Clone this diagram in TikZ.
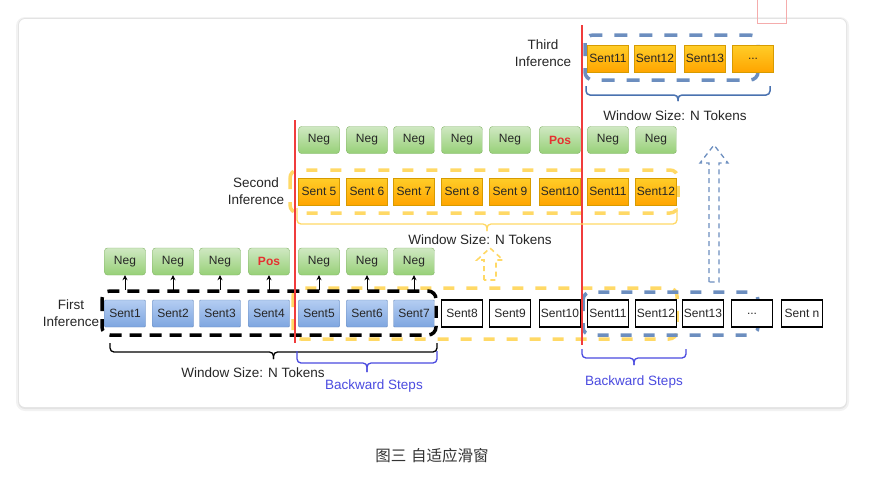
\documentclass[tikz,border=0pt]{standalone}
\usepackage{fontspec}
\setmainfont{Liberation Sans}
\newfontfamily\cjk{Noto Sans CJK SC}
\usetikzlibrary{arrows.meta}

\definecolor{sentblue}{HTML}{7EA6E0}
\definecolor{sentbluetop}{HTML}{B4CDF2}
\definecolor{sentbluebd}{HTML}{6C8EBF}
\definecolor{neggreen}{HTML}{97D077}
\definecolor{neggreentop}{HTML}{CFE8C2}
\definecolor{neggreenbd}{HTML}{82B366}
\definecolor{orangetop}{HTML}{FFCD28}
\definecolor{orangebot}{HTML}{FFA500}
\definecolor{orangebd}{HTML}{D79B00}
\definecolor{winyellow}{HTML}{FFD966}
\definecolor{winblue}{HTML}{6C8EBF}
\definecolor{braceblue}{HTML}{4A72B0}
\definecolor{stepblue}{HTML}{4B4BE0}
\definecolor{cutred}{HTML}{F03C3C}
\definecolor{posred}{HTML}{E53030}

% curly bracket: x1, x2, top, arm, tip, options
\newcommand{\curly}[6]{%
  \draw[#6, rounded corners=4pt] (#1,#3) -- (#1,#4) -- ({(#1+#2)/2},#4) -- ({(#1+#2)/2},#5);
  \draw[#6, rounded corners=4pt] (#2,#3) -- (#2,#4) -- ({(#1+#2)/2},#4) -- ({(#1+#2)/2},#5);}

\tikzset{
  cellbox/.style={minimum width=41pt, minimum height=27pt, inner sep=0pt, text=black!85,
    font=\fontsize{12}{14}\selectfont},
  sentbox/.style={cellbox, draw=sentbluebd, top color=sentbluetop, bottom color=sentblue, rounded corners=1pt},
  negbox/.style={cellbox, draw=neggreenbd, top color=neggreentop, bottom color=neggreen, rounded corners=3pt},
  posbox/.style={negbox, text=posred, font=\fontsize{12}{14}\selectfont\bfseries},
  orbox/.style={cellbox, draw=orangebd, top color=orangetop, bottom color=orangebot},
  plainbox/.style={cellbox, draw=black, line width=1.6pt, fill=white},
  winrect/.style={line width=3.5pt, rounded corners=8pt},
  txt/.style={font=\fontsize{13.5}{17}\selectfont, align=center, text=black!85},
  hollow/.style={line width=1.3pt, dash pattern=on 5pt off 4pt},
  up/.style={-{Stealth[length=5pt,width=5pt]}, line width=0.9pt, shorten <=10pt},
}

\begin{document}
\begin{tikzpicture}[x=1pt, y=-1pt]
	\useasboundingbox (0,0) rectangle (876,491);
	\fill[white] (0,0) rectangle (876,491);
	% card
	\fill[black, opacity=0.05, rounded corners=9pt] (16,17) rectangle (849,411);
	\fill[black, opacity=0.06, rounded corners=7pt] (18,18) rectangle (847,409);
	\fill[white, rounded corners=6pt] (19,19) rectangle (846,407);
	\draw[posred!40, line width=0.8pt] (757,-1) -- (757,23) -- (786,23) -- (786,-1);

	% windows
	\draw[winrect, winyellow, dash pattern=on 11pt off 12pt] (293,288) rectangle (677,339);
	\draw[winrect, winblue, dash pattern=on 11pt off 12pt] (583,292) rectangle (758,335);
	\draw[winrect, black, dash pattern=on 12pt off 8pt] (102,291) rectangle (436,335);
	\draw[winrect, winyellow, dash pattern=on 11pt off 13pt] (290,170) rectangle (678,213);
	\draw[winrect, winblue, dash pattern=on 13pt off 12pt] (585,35) rectangle (758,80);

	% First inference
	\begin{scope}[]
	\node[sentbox] (b1) at (125,313.5) {Sent1};
	\node[sentbox] (b2) at (173,313.5) {Sent2};
	\node[sentbox] (b3) at (220,313.5) {Sent3};
	\node[sentbox] (b4) at (269,313.5) {Sent4};
	\node[sentbox] (b5) at (319,313.5) {Sent5};
	\node[sentbox] (b6) at (367,313.5) {Sent6};
	\node[sentbox] (b7) at (414,313.5) {Sent7};
	\node[plainbox] (b8) at (462,313.5) {Sent8};
	\node[plainbox] (b9) at (510,313.5) {Sent9};
	\node[plainbox] (b10) at (560,313.5) {Sent10};
	\node[plainbox] (b11) at (608,313.5) {Sent11};
	\node[plainbox] (b12) at (656,313.5) {Sent12};
	\node[plainbox] (b13) at (703,313.5) {Sent13};
	\node[plainbox] (b14) at (752,313.5) {...};
	\node[plainbox] (b15) at (802,313.5) {Sent n};
	\node[negbox] (n1) at (125,261.5) {Neg};
	\node[negbox] (n2) at (173,261.5) {Neg};
	\node[negbox] (n3) at (220,261.5) {Neg};
	\node[posbox] (n4) at (269,261.5) {Pos};
	\node[negbox] (n5) at (319,261.5) {Neg};
	\node[negbox] (n6) at (367,261.5) {Neg};
	\node[negbox] (n7) at (414,261.5) {Neg};
	\draw[up] (b1) -- (n1);
	\draw[up] (b2) -- (n2);
	\draw[up] (b3) -- (n3);
	\draw[up] (b4) -- (n4);
	\draw[up] (b5) -- (n5);
	\draw[up] (b6) -- (n6);
	\draw[up] (b7) -- (n7);
	\node[txt] (first) at (71,313.5) {First\\Inference};
	\end{scope}

	% Second inference
	\begin{scope}[]
	\node[orbox] (m5) at (319,191.5) {Sent 5};
	\node[orbox] (m6) at (367,191.5) {Sent 6};
	\node[orbox] (m7) at (414,191.5) {Sent 7};
	\node[orbox] (m8) at (462,191.5) {Sent 8};
	\node[orbox] (m9) at (510,191.5) {Sent 9};
	\node[orbox] (m10) at (560,191.5) {Sent10};
	\node[orbox] (m11) at (608,191.5) {Sent11};
	\node[orbox] (m12) at (656,191.5) {Sent12};
	\node[negbox] (p5) at (319,140) {Neg};
	\node[negbox] (p6) at (367,140) {Neg};
	\node[negbox] (p7) at (414,140) {Neg};
	\node[negbox] (p8) at (462,140) {Neg};
	\node[negbox] (p9) at (510,140) {Neg};
	\node[posbox] (p10) at (560,140) {Pos};
	\node[negbox] (p11) at (608,140) {Neg};
	\node[negbox] (p12) at (656,140) {Neg};
	\node[txt] (second) at (256,191) {Second\\Inference};
	\end{scope}

	% Third inference
	\begin{scope}[]
	\node[orbox] (t11) at (608,58.5) {Sent11};
	\node[orbox] (t12) at (655,58.5) {Sent12};
	\node[orbox] (t13) at (705,58.5) {Sent13};
	\node[orbox] (t14) at (753,58.5) {...};
	\node[txt] (third) at (543,53.5) {Third\\Inference};
	\end{scope}

	% cuts and moves
	\draw[cutred, line width=2pt] (295,120) -- (295,343);
	\draw[cutred, line width=2pt] (582,25) -- (582,345);
	\draw[hollow, winblue] (709,282) -- (709,163) -- (700,163) -- (714,145) -- (728,163) -- (719,163) -- (719,282) -- cycle;
	\draw[hollow, winyellow, line width=1.6pt] (484,280) -- (484,260) -- (477,260) -- (490,248) -- (503,260) -- (496,260) -- (496,280) -- cycle;

	% brackets
	\curly{110}{437}{343}{352}{359}{black, line width=1.3pt}
	\curly{297}{437}{351}{363}{372}{stepblue, line width=1.3pt}
	\curly{582}{686}{349}{358}{365}{stepblue, line width=1.3pt}
	\curly{297}{677}{208}{224}{231}{winyellow, line width=1.3pt}
	\curly{586}{770}{86}{95}{101}{braceblue, line width=1.5pt}
	\node[txt] (win1) at (253,373) {Window Size: N Tokens};
	\node[txt, text=stepblue] (back1) at (374,386) {Backward Steps};
	\node[txt] (win2) at (480,240) {Window Size: N Tokens};
	\node[txt] (win3) at (675,116) {Window Size: N Tokens};
	\node[txt, text=stepblue] (back2) at (634,382) {Backward Steps};

	\node[font=\cjk\fontsize{15.5}{17}\selectfont, text=black!80] (cap) at (432,456) {图三\hspace{0.3em}自适应滑窗};
\end{tikzpicture}
\end{document}
